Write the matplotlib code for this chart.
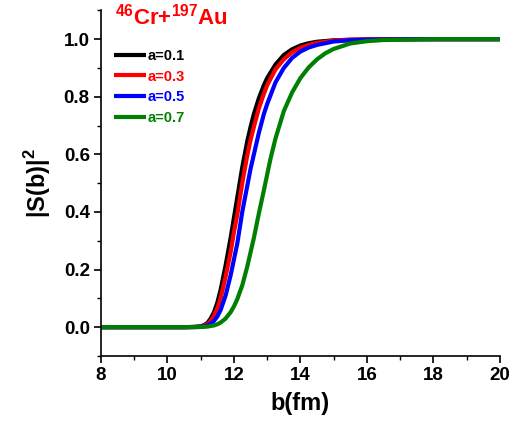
import matplotlib
matplotlib.use("Agg")
import matplotlib.pyplot as plt
from matplotlib.ticker import MultipleLocator

plt.rcParams['font.family'] = ['Liberation Sans', 'DejaVu Sans']
plt.rcParams['font.weight'] = 'bold'
plt.rcParams['mathtext.fontset'] = 'custom'
plt.rcParams['mathtext.rm'] = 'Liberation Sans:bold'
plt.rcParams['mathtext.bf'] = 'Liberation Sans:bold'

b_black = [8, 10, 10.5, 10.8, 11, 11.1, 11.2, 11.3, 11.4, 11.5, 11.6, 11.75, 11.9, 12, 12.1, 12.25, 12.4, 12.5, 12.6, 12.75, 12.9, 13, 13.25, 13.5, 13.75, 14, 14.25, 14.5, 15, 15.5, 16, 17, 18, 20]
s_black = [0, 0, 0, 0.001, 0.003, 0.007, 0.014, 0.03, 0.052, 0.085, 0.13, 0.215, 0.31, 0.38, 0.45, 0.555, 0.645, 0.695, 0.74, 0.795, 0.84, 0.865, 0.912, 0.945, 0.965, 0.978, 0.986, 0.991, 0.996, 0.998, 0.999, 1.0, 1.0, 1.0]

b_red = [8, 10, 10.5, 10.8, 11, 11.1, 11.2, 11.3, 11.4, 11.5, 11.6, 11.75, 11.9, 12, 12.1, 12.25, 12.4, 12.5, 12.6, 12.75, 12.9, 13, 13.25, 13.5, 13.75, 14, 14.25, 14.5, 15, 15.5, 16, 17, 18, 20]
s_red = [0, 0, 0, 0.0007, 0.002, 0.005, 0.01, 0.021, 0.039, 0.065, 0.1, 0.175, 0.26, 0.33, 0.39, 0.50, 0.595, 0.65, 0.695, 0.76, 0.81, 0.84, 0.895, 0.93, 0.955, 0.97, 0.98, 0.987, 0.995, 0.998, 0.999, 1.0, 1.0, 1.0]

b_blue = [8, 10, 10.5, 10.8, 11, 11.1, 11.2, 11.3, 11.4, 11.5, 11.6, 11.75, 11.9, 12, 12.1, 12.25, 12.4, 12.5, 12.6, 12.75, 12.9, 13, 13.25, 13.5, 13.75, 14, 14.25, 14.5, 15, 15.5, 16, 17, 18, 20]
s_blue = [0, 0, 0, 0.0003, 0.001, 0.003, 0.006, 0.012, 0.022, 0.037, 0.06, 0.11, 0.18, 0.235, 0.29, 0.40, 0.49, 0.55, 0.60, 0.675, 0.74, 0.775, 0.85, 0.90, 0.935, 0.957, 0.971, 0.98, 0.992, 0.996, 0.998, 1.0, 1.0, 1.0]

b_green = [8, 10, 10.5, 10.8, 11, 11.2, 11.4, 11.5, 11.6, 11.75, 11.9, 12, 12.1, 12.25, 12.4, 12.5, 12.6, 12.75, 12.9, 13, 13.1, 13.25, 13.5, 13.75, 14, 14.25, 14.5, 14.75, 15, 15.5, 16, 16.5, 17, 18, 20]
s_green = [0, 0, 0, 0.0002, 0.0006, 0.002, 0.006, 0.01, 0.016, 0.03, 0.052, 0.072, 0.097, 0.145, 0.21, 0.26, 0.31, 0.395, 0.475, 0.53, 0.585, 0.655, 0.75, 0.815, 0.865, 0.902, 0.93, 0.951, 0.966, 0.985, 0.993, 0.997, 0.998, 1.0, 1.0]

labels = ['a=0.1', 'a=0.3', 'a=0.5', 'a=0.7']
colors = ['black', 'red', 'blue', 'green']

fig = plt.figure(figsize=(5.16, 4.32), dpi=100)
ax = fig.add_axes([0.1957, 0.176, 0.773, 0.8])

series = [(b_black, s_black), (b_red, s_red), (b_blue, s_blue), (b_green, s_green)]
for (bx, sy), lab, c in zip(series, labels, colors):
    ax.plot(bx, sy, color=c, lw=3, label=lab, solid_capstyle='butt', solid_joinstyle='round')

ax.set_xlim(8, 20)
ax.set_ylim(-0.1, 1.1)
ax.xaxis.set_major_locator(MultipleLocator(2))
ax.xaxis.set_minor_locator(MultipleLocator(1))
ax.yaxis.set_minor_locator(MultipleLocator(0.1))
ax.set_yticks([0.0, 0.2, 0.4, 0.6, 0.8, 1.0])
ax.set_yticklabels(['0.0', '0.2', '0.4', '0.6', '0.8', '1.0'])
ax.spines['top'].set_visible(False)
ax.spines['right'].set_visible(False)
for s in ['left', 'bottom']:
    ax.spines[s].set_linewidth(1.2)
ax.tick_params(which='major', direction='out', length=5, width=1.2, labelsize=13.5, pad=3)
ax.tick_params(which='minor', direction='out', length=3, width=1.0)
for t in ax.get_xticklabels() + ax.get_yticklabels():
    t.set_fontweight('bold')

ax.set_xlabel('b(fm)', fontsize=17, fontweight='bold', labelpad=6)
ax.set_ylabel(r'|S(b)|$^{\mathbf{2}}$', fontsize=17, fontweight='bold', labelpad=8)

ax.text(0.035, 1.02, r'$^{\mathbf{46}}$Cr+$^{\mathbf{197}}$Au', transform=ax.transAxes,
        color='red', fontsize=16, fontweight='bold', va='top', ha='left')

leg = ax.legend(loc='upper left', bbox_to_anchor=(0.017, 0.905), frameon=False,
                handlelength=2.2, handletextpad=0.1, labelspacing=0.45,
                labelcolor='linecolor', prop={'weight': 'bold', 'size': 10.5},
                borderaxespad=0.0)

fig.savefig('out.png', dpi=100)
